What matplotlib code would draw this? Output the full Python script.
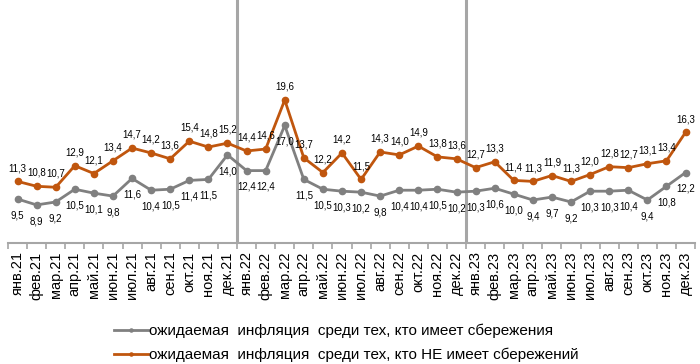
import matplotlib
matplotlib.use("Agg")
import matplotlib.pyplot as plt

plt.rcParams['font.family'] = ['Liberation Sans', 'DejaVu Sans']

months = ['янв', 'фев', 'мар', 'апр', 'май', 'июн',
          'июл', 'авг', 'сен', 'окт', 'ноя', 'дек']
years = ['21', '22', '23']
labels = [m + '.' + y for y in years for m in months]

# ожидаемая инфляция, %
with_savings = [9.5, 8.9, 9.2, 10.5, 10.1, 9.8, 11.6, 10.4, 10.5, 11.4, 11.5, 14.0,
                12.4, 12.4, 17.0, 11.5, 10.5, 10.3, 10.2, 9.8, 10.4, 10.4, 10.5, 10.2,
                10.3, 10.6, 10.0, 9.4, 9.7, 9.2, 10.3, 10.3, 10.4, 9.4, 10.8, 12.2]
no_savings = [11.3, 10.8, 10.7, 12.9, 12.1, 13.4, 14.7, 14.2, 13.6, 15.4, 14.8, 15.2,
              14.4, 14.6, 19.6, 13.7, 12.2, 14.2, 11.5, 14.3, 14.0, 14.9, 13.8, 13.6,
              12.7, 13.3, 11.4, 11.3, 11.9, 11.3, 12.0, 12.8, 12.7, 13.1, 13.4, 16.3]

name1 = 'ожидаемая  инфляция  среди тех, кто имеет сбережения'
name2 = 'ожидаемая  инфляция  среди тех, кто НЕ имеет сбережений'

gray = '#808080'
orange = '#C0560E'
axcol = '#A6A6A6'

fig = plt.figure(figsize=(7.0, 3.64), dpi=100)
ax = fig.add_axes([0.0114, 0.332, 0.9816, 0.668])

x = list(range(len(labels)))
ax.plot(x, with_savings, color=gray, lw=2.0, marker='o', ms=4.5, label=name1)
ax.plot(x, no_savings, color=orange, lw=2.0, marker='o', ms=4.5, label=name2)


def fmt(v):
    return f'{v:.1f}'.replace('.', ',')


for i in x:
    ax.annotate(fmt(with_savings[i]), (i, with_savings[i]), xytext=(0, -8),
                textcoords='offset points', ha='center', va='top', fontsize=7)
    ax.annotate(fmt(no_savings[i]), (i, no_savings[i]), xytext=(0, 6),
                textcoords='offset points', ha='center', va='bottom', fontsize=7)

# year separators
for b in (11.5, 23.5):
    ax.axvline(b, color=axcol, lw=2.2, zorder=0)

ax.set_xlim(-0.5, len(labels) - 0.5)
ax.set_ylim(5.0, 29.8)

for s in ('top', 'right', 'left'):
    ax.spines[s].set_visible(False)
ax.spines['bottom'].set_color(axcol)
ax.spines['bottom'].set_linewidth(1.5)
ax.set_yticks([])

ax.set_xticks(x)
ax.set_xticklabels(labels, rotation=90, fontsize=10.5)
ax.tick_params(axis='x', which='major', length=0, pad=6)
ax.set_xticks([i - 0.5 for i in range(len(labels) + 1)], minor=True)
ax.tick_params(axis='x', which='minor', length=4, width=1.2, color=axcol)

fig.legend(loc='upper left', bbox_to_anchor=(0.152, 0.132), frameon=False,
           fontsize=11, handlelength=2.2, handletextpad=0.1, borderpad=0,
           labelspacing=0.65, markerscale=0.5)

fig.savefig('out.png', dpi=100)
